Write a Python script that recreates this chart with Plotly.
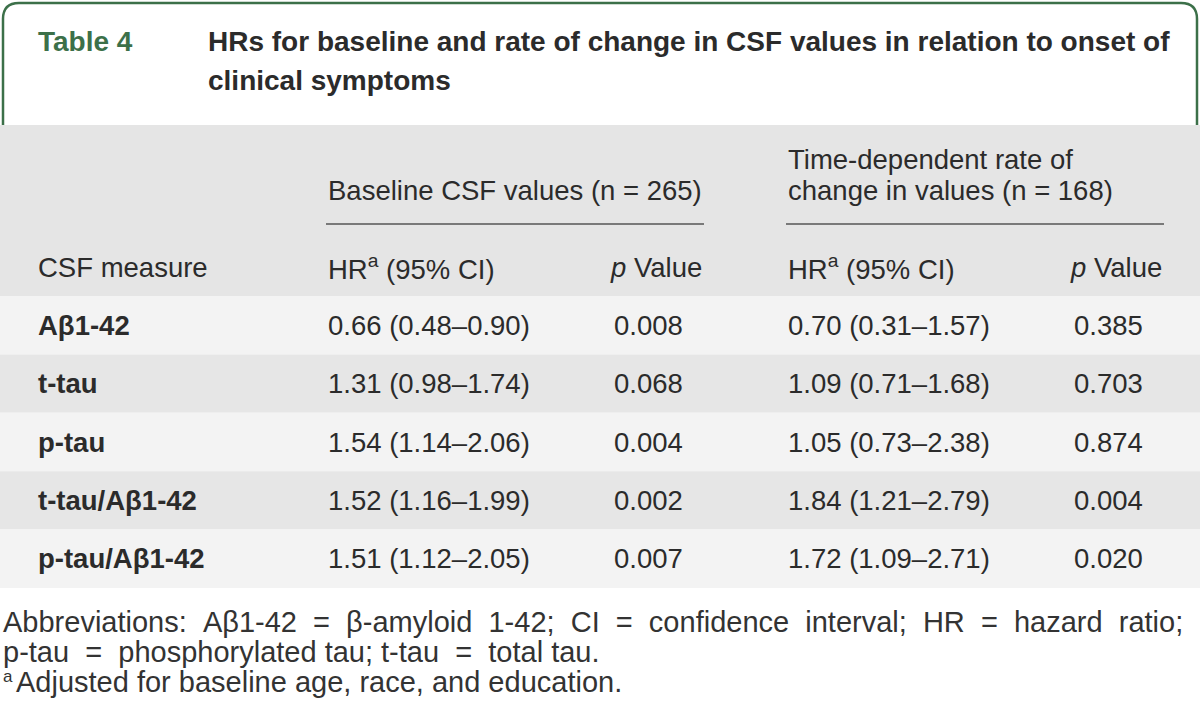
import plotly.graph_objects as go

# ---- data ----
measures = ["Aβ1-42", "t-tau", "p-tau", "t-tau/Aβ1-42", "p-tau/Aβ1-42"]
baseline_hr = ["0.66 (0.48–0.90)", "1.31 (0.98–1.74)", "1.54 (1.14–2.06)",
               "1.52 (1.16–1.99)", "1.51 (1.12–2.05)"]
baseline_p = ["0.008", "0.068", "0.004", "0.002", "0.007"]
rate_hr = ["0.70 (0.31–1.57)", "1.09 (0.71–1.68)", "1.05 (0.73–2.38)",
           "1.84 (1.21–2.79)", "1.72 (1.09–2.71)"]
rate_p = ["0.385", "0.703", "0.874", "0.004", "0.020"]

table_label = "Table 4"
title_lines = ["HRs for baseline and rate of change in CSF values in relation to onset of",
               "clinical symptoms"]
group_header_1 = ["Baseline CSF values (n = 265)"]
group_header_2 = ["Time-dependent rate of", "change in values (n = 168)"]
col_headers = ["CSF measure", "HR<sup>a</sup> (95% CI)", "<i>p</i> Value",
               "HR<sup>a</sup> (95% CI)", "<i>p</i> Value"]
footnotes = ["Abbreviations: Aβ1-42 = β-amyloid 1-42; CI = confidence interval; HR = hazard ratio;",
             "p-tau = phosphorylated tau; t-tau = total tau.",
             "Adjusted for baseline age, race, and education."]
footnote_mark = "a"

# ---- style ----
W, H = 1200, 723
GREEN = "#3c7049"
TXT = "#2b2b2b"
HEAD_BG = "#e5e5e5"
ROW_BG = ["#f3f3f3", "#e6e6e6"]
FONT = "Liberation Sans, Arial, sans-serif"
FS_TITLE = 28
FS = 27.5
FS_FOOT = 29


def widen(s, other_pad=False):
    """Wider word spacing (the reference footnotes are justified)."""
    nb = "\u00a0"
    toks = s.split(" ")
    out = toks[0]
    for prev, cur in zip(toks[:-1], toks[1:]):
        if prev == "=" or cur == "=":
            out += nb + " " + cur
        elif other_pad:
            out += " " + nb + cur
        else:
            out += " " + cur
    return out


fig = go.Figure()
shapes = []
ann = []

# header frame (rounded green border top/left/right)
r = 16
shapes.append(dict(type="path", xref="x", yref="y",
                   path=f"M 3 125 L 3 {3+r} Q 3 3 {3+r} 3 L {1197-r} 3 Q 1197 3 1197 {3+r} L 1197 125",
                   line=dict(color=GREEN, width=2.5)))

ann.append(dict(x=36, y=41, text=f"<b>{table_label}</b>", font=dict(size=FS_TITLE, color=GREEN, family=FONT)))
for i, t in enumerate(title_lines):
    ann.append(dict(x=206, y=41 + i * 39, text=f"<b>{t}</b>", font=dict(size=FS_TITLE, color=TXT, family=FONT)))

# header background
shapes.append(dict(type="rect", xref="x", yref="y", x0=0, x1=W, y0=125, y1=296,
                   fillcolor=HEAD_BG, line=dict(width=0), layer="below"))

col_x = [36, 326, 612, 786, 1072]
col_right = [None, None, 704, None, 1164]

ann.append(dict(x=326, y=190, text=group_header_1[0], font=dict(size=FS, color=TXT, family=FONT)))
for k, t in enumerate(group_header_2):
    ann.append(dict(x=786, y=159 + k * 31, text=t, font=dict(size=FS, color=TXT, family=FONT)))
for x0, x1 in [(326, 704), (786, 1164)]:
    shapes.append(dict(type="line", xref="x", yref="y", x0=x0, x1=x1, y0=224, y1=224,
                       line=dict(color="#555555", width=1.5)))

for j, h in enumerate(col_headers):
    if col_right[j] is not None:
        ann.append(dict(x=col_right[j], y=267, text=h, xanchor="right",
                        font=dict(size=FS, color=TXT, family=FONT)))
    else:
        ann.append(dict(x=col_x[j], y=267, text=h, font=dict(size=FS, color=TXT, family=FONT)))

# body rows
top, rh = 296, 58.4
for i in range(len(measures)):
    y0 = top + i * rh
    shapes.append(dict(type="rect", xref="x", yref="y", x0=0, x1=W, y0=y0, y1=y0 + rh,
                       fillcolor=ROW_BG[i % 2], line=dict(width=0), layer="below"))
    yc = y0 + rh / 2
    cells = [f"<b>{measures[i]}</b>", baseline_hr[i], baseline_p[i], rate_hr[i], rate_p[i]]
    for j, c in enumerate(cells):
        ann.append(dict(x=col_x[j], y=yc, text=c, font=dict(size=FS, color=TXT, family=FONT)))

# footnotes
ann.append(dict(x=1, y=622, text=widen(footnotes[0], True),
                font=dict(size=FS_FOOT, color="#333333", family=FONT)))
ann.append(dict(x=1, y=652, text=widen(footnotes[1], False),
                font=dict(size=FS_FOOT, color="#333333", family=FONT)))
ann.append(dict(x=1, y=676, text=footnote_mark,
                font=dict(size=17, color="#333333", family=FONT)))
ann.append(dict(x=14, y=682, text=footnotes[2],
                font=dict(size=FS_FOOT, color="#333333", family=FONT)))

for a in ann:
    a.setdefault("xanchor", "left")
    a.update(xref="x", yref="y", yanchor="middle", showarrow=False, align="left")

fig.update_layout(
    width=W, height=H, margin=dict(l=0, r=0, t=0, b=0),
    paper_bgcolor="white", plot_bgcolor="white",
    xaxis=dict(range=[0, W], visible=False, fixedrange=True),
    yaxis=dict(range=[H, 0], visible=False, fixedrange=True),
    shapes=shapes, annotations=ann, showlegend=False,
)
fig.write_html("out.html", config={"displayModeBar": False},
               post_script="document.body.style.margin='0';document.body.style.overflow='hidden';")
